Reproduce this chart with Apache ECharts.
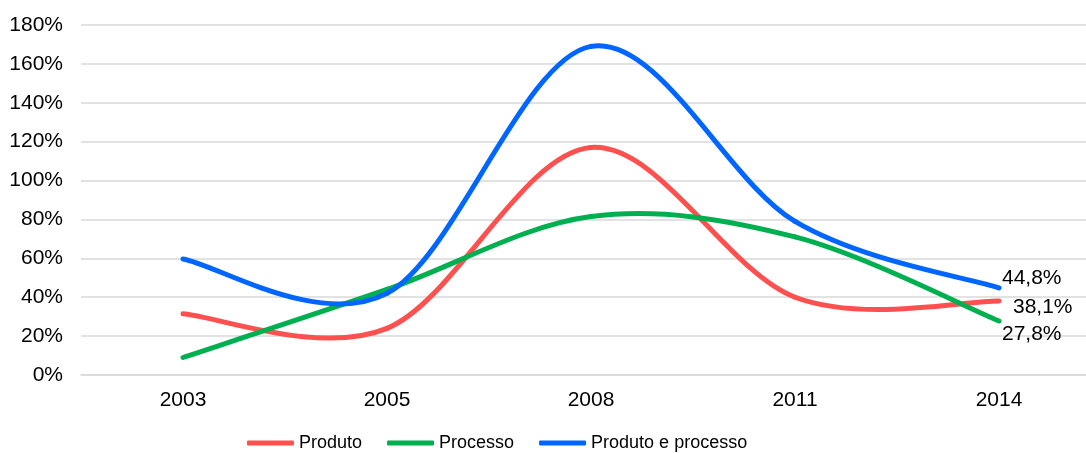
<!DOCTYPE html>
<html>
<head>
<meta charset="utf-8">
<script src="https://cdn.jsdelivr.net/npm/echarts@6/dist/echarts.min.js"></script>
<style>
html,body{margin:0;padding:0;background:#fff;}
#c{width:1086px;height:453px;}
</style>
</head>
<body>
<div id="c"></div>
<script>
const categories = ['2003', '2005', '2008', '2011', '2014'];
const produto = [31.5, 24, 117, 40, 38.1];
const processo = [9, 44, 81.5, 71, 27.8];
const produtoProcesso = [59.7, 42, 169, 79, 44.8];
const seriesNames = ['Produto', 'Processo', 'Produto e processo'];
const colors = ['#FF5050', '#00B050', '#0066FF'];
const yTicks = [0, 20, 40, 60, 80, 100, 120, 140, 160, 180];

// end-label offsets [dx, dy] relative to the last point
const labelOffsets = [[14, 6], [3, 13], [3, -10]];

const fontFamily = '"Liberation Sans", Arial, sans-serif';
const fmt = v => v.toFixed(1).replace('.', ',') + '%';

// Excel-like smoothing (Catmull-Rom style Bezier, tension 1/6)
function makeRenderItem(values, idx) {
  return function (params, api) {
    const i = params.dataIndex;
    const n = values.length;
    const pt = k => api.coord([k, values[k]]);
    const children = [];
    if (i < n - 1) {
      const p0 = pt(Math.max(i - 1, 0)), p1 = pt(i), p2 = pt(i + 1), p3 = pt(Math.min(i + 2, n - 1));
      const t = 1 / 6;
      children.push({
        type: 'bezierCurve',
        shape: {
          x1: p1[0], y1: p1[1], x2: p2[0], y2: p2[1],
          cpx1: p1[0] + (p2[0] - p0[0]) * t, cpy1: p1[1] + (p2[1] - p0[1]) * t,
          cpx2: p2[0] - (p3[0] - p1[0]) * t, cpy2: p2[1] - (p3[1] - p1[1]) * t
        },
        style: {stroke: colors[idx], lineWidth: 5, fill: null, lineCap: 'round'}
      });
    } else {
      const p = pt(i);
      children.push({
        type: 'text',
        x: p[0] + labelOffsets[idx][0], y: p[1] + labelOffsets[idx][1],
        style: {
          text: fmt(values[i]), fill: '#000', fontSize: 21, fontFamily: fontFamily,
          align: 'left', verticalAlign: 'middle'
        }
      });
    }
    return {type: 'group', children: children};
  };
}

const all = [produto, processo, produtoProcesso];
const chart = echarts.init(document.getElementById('c'), null, {renderer: 'canvas'});
chart.setOption({
  animation: false,
  color: colors,
  textStyle: {fontFamily: fontFamily},
  grid: {left: 81, width: 1020, top: 25, bottom: 78, containLabel: false, outerBoundsMode: 'none'},
  legend: {
    top: 429, left: 242,
    data: seriesNames,
    icon: 'roundRect', itemWidth: 47, itemHeight: 5, itemGap: 25,
    textStyle: {fontSize: 18, color: '#000', fontFamily: fontFamily}
  },
  xAxis: {
    type: 'category', data: categories, boundaryGap: true,
    axisLine: {lineStyle: {color: '#D9D9D9', width: 1.5}},
    axisTick: {show: false},
    axisLabel: {color: '#000', fontSize: 21, margin: 15}
  },
  yAxis: {
    type: 'value', min: yTicks[0], max: yTicks[yTicks.length - 1], interval: yTicks[1] - yTicks[0],
    axisLabel: {color: '#000', fontSize: 21, margin: 18, formatter: v => v + '%'},
    splitLine: {lineStyle: {color: '#D9D9D9', width: 1.5}},
    axisLine: {show: false}, axisTick: {show: false}
  },
  series: all.map((arr, i) => ({
    name: seriesNames[i], type: 'custom',
    renderItem: makeRenderItem(arr, i),
    itemStyle: {color: colors[i]},
    data: arr.map((v, k) => [k, v]),
    encode: {x: 0, y: 1},
    clip: false,
    z: 2 + i
  }))
});
</script>
</body>
</html>
